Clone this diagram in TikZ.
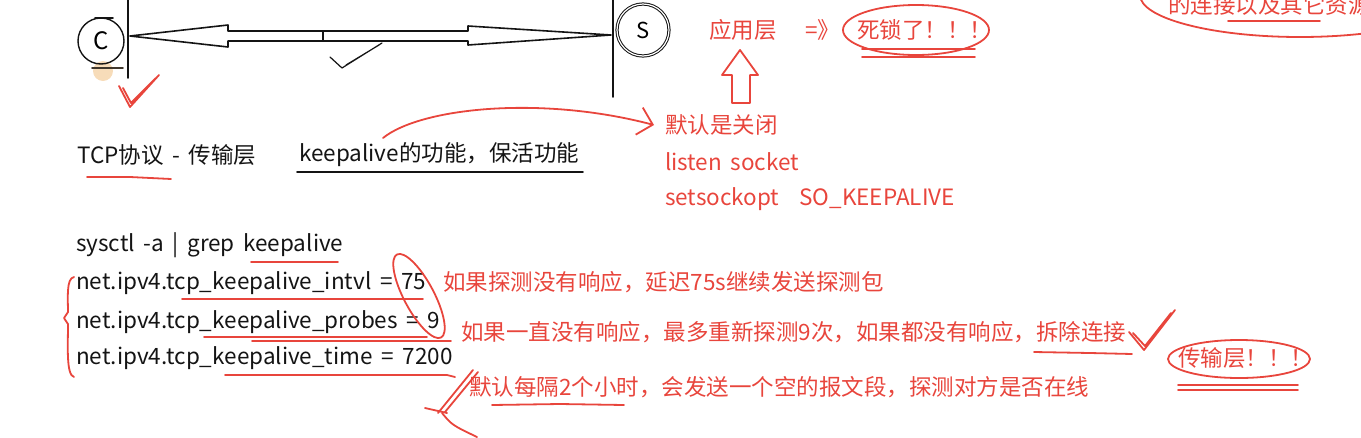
\documentclass[tikz,border=0pt]{standalone}
\usepackage{fontspec}
\setmainfont[WordSpace=1.7]{Noto Sans CJK SC}
\usetikzlibrary{positioning,calc,arrows.meta}
\definecolor{pen}{HTML}{E8453C}
\definecolor{ink}{HTML}{141414}
\definecolor{glow}{HTML}{F2C48A}

\begin{document}
\begin{tikzpicture}[x=1pt, y=-1pt, font=\fontsize{22.5}{27}\selectfont, line cap=round, line join=round,
  blk/.style={anchor=west, inner sep=0pt, text=ink},
  note/.style={blk, text=pen},
  pencil/.style={draw=pen, line width=1.8pt},
  chalk/.style={draw=ink, line width=1.6pt}]
\useasboundingbox (0,0) rectangle (1361,437);
\clip (0,0) rectangle (1361,437);
% client and server ends, and the connection between them
\draw[chalk] (128,0) -- (128,78);
\draw[chalk] (613,0) -- (613,97);
\fill[glow, opacity=.6] (103,71) circle (10);
\node[draw=ink, circle, line width=1.4pt, minimum size=46pt, inner sep=0pt, font=\fontsize{24}{24}\selectfont] (cli) at (101,41) {C};
\draw[chalk] (95,18) -- (113,18);
\draw[draw=ink!80!glow, line width=1.6pt] (92,68) -- (123,68);
\node[draw=ink, circle, double, double distance=1.2pt, line width=1pt, minimum size=52pt, inner sep=0pt, font=\fontsize{22}{22}\selectfont] (srv) at (643,30) {S};
\coordinate (cl) at (130,36);
\coordinate (sl) at (611,35);
\coordinate (mid) at (323,36);
\draw[chalk] (mid) -- ++(0,-5) -- ++(-95,0) -- ++(0,-6) -- (cl) -- ++(98,11) -- ++(0,-6) -- ++(95,0) -- cycle;
\draw[chalk] (mid) -- ++(0,-5) -- ++(145,0) -- ++(0,-5) -- (sl) -- ++(-143,10) -- ++(0,-4) -- ++(-145,0) -- cycle;
\draw[chalk, line width=1.2pt] (330,57) -- (342,68) -- (382,43) (346,65) -- (379,45);
\draw[pencil] (119,86) -- (130,107) -- (159,75) (123,88) -- (131,103) -- (156,78);
% application layer
\node[note] (app) at (709,30) {应用层};
\node[note] (to) at (805,30) {=》};
\node[note] (dead) at (857,30) {死锁了！！！};
\draw[pencil] (916,30) ellipse [x radius=73, y radius=25];
\draw[pencil] (862,49) -- (975,49) (862,57) -- (975,57);
\draw[pencil] (732,103) -- (732,75) -- (722,75) -- (740,50) -- (758,75) -- (750,75) -- (750,103) -- cycle;
\node[note] (rest) at (1168,5) {的连接以及其它资源};
\draw[pencil] (1300,-5) ellipse [x radius=160, y radius=42];
\draw[pencil] (1228,21) -- (1320,21);
% transport layer
\node[blk] (tcp) at (77,155) {TCP协议 - 传输层};
\draw[pencil] (87,177) -- (130,177) -- (171,179);
\node[blk] (ka) at (299,155) {keepalive的功能，保活功能};
\draw[chalk] (297,172) -- (583,172);
\node[note] (dflt) at (665,125) {默认是关闭};
\node[note] (lsn) at (665,162) {listen socket};
\node[note] (sso) at (665,199) {setsockopt\hspace{20pt}SO\_KEEPALIVE};
\draw[pencil, -{Straight Barb[length=14pt, width=28pt]}] ($(ka.west)+(84,-17)$) .. controls (420,108) and (540,95) .. ($(dflt.west)+(-11,0)$);
% kernel settings
\node[blk] (cmd) at (76,245) {sysctl -a | grep keepalive};
\draw[pencil] (251,262) -- (338,262);
\foreach \nm/\y/\t in {intvl/283/{net.ipv4.tcp\_keepalive\_intvl = 75}, probes/322/{net.ipv4.tcp\_keepalive\_probes = 9}, ktime/358/{net.ipv4.tcp\_keepalive\_time = 7200}}
  \node[blk] (\nm) at (76,\y) {\t};
\draw[pencil] (182,299) -- (423,299);
\draw[pencil] (204,337) -- (427,337) (252,341) -- (451,341);
\draw[pencil] (225,375) -- (447,375) -- (455,377);
\draw[pencil] (74,277) .. controls (66,278) and (68,300) .. (68,312) -- (64,318) -- (68,324) .. controls (68,345) and (66,375) .. (74,377);
\draw[pencil, rotate around={-62:(419,296)}] (419,296) ellipse [x radius=47, y radius=15];
\draw[pencil] (473,370) -- (438,413) (478,372) -- (445,412) (425,408) -- (447,413);
\draw[pencil] (442,413) .. controls (452,425) .. (477,437);
\node[note] (n1) at (443,282) {如果探测没有响应，延迟75s继续发送探测包};
\node[note] (n2) at (461,332) {如果一直没有响应，最多重新探测9次，如果都没有响应，拆除连接};
\node[note] (n3) at (469,387) {默认每隔2个小时，会发送一个空的报文段，探测对方是否在线};
\draw[pencil] (1034,352) -- (1090,353) -- (1132,354);
\draw[pencil] (492,405) -- (560,404) -- (624,405);
\draw[pencil] (1129,332) -- (1144,350) -- (1175,310) (1133,333) -- (1145,346) -- (1171,313);
\node[note] (tl) at (1178,358) {传输层！！！};
\draw[pencil] (1239,359) ellipse [x radius=71, y radius=19];
\draw[pencil] (1178,385) -- (1298,385) (1178,390) -- (1298,390);
\end{tikzpicture}
\end{document}
